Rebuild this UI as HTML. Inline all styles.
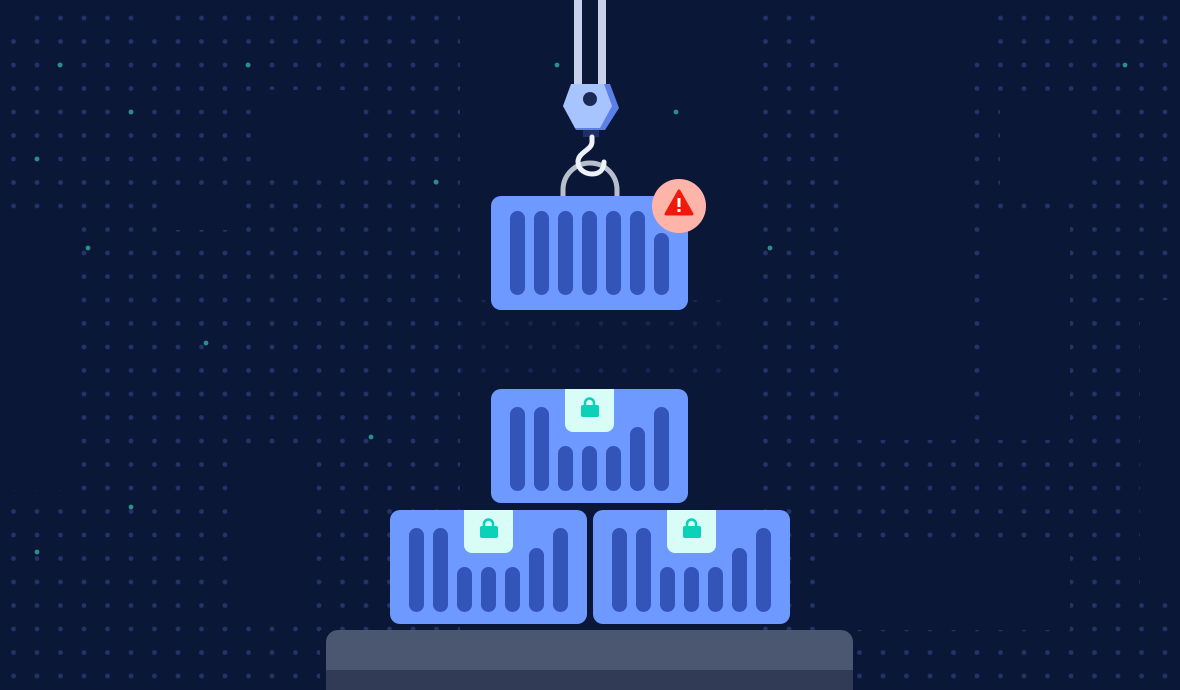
<!DOCTYPE html>
<html><head><meta charset="utf-8"><style>
html,body{margin:0;padding:0;background:#0b1736;width:1180px;height:690px;overflow:hidden}
</style></head><body>
<svg width="1180" height="690" viewBox="0 0 1180 690" xmlns="http://www.w3.org/2000/svg">
<defs>
<pattern id="dots" x="1.75" y="6.25" width="23.5" height="23.5" patternUnits="userSpaceOnUse">
<circle cx="11.75" cy="11.75" r="2.4" fill="#34488f"/>
</pattern>
</defs>
<rect width="1180" height="690" fill="#0b1736"/>
<g opacity="0.6">
<rect x="0" y="0" width="460" height="630" fill="url(#dots)"/>
<rect x="0" y="630" width="320" height="60" fill="url(#dots)"/>
<rect x="755" y="0" width="425" height="690" fill="url(#dots)"/>
<rect x="460" y="300" width="280" height="90" fill="url(#dots)" opacity="0.5"/>
</g>
<g fill="#0b1736">
<rect x="0" y="220" width="75" height="270"/>
<rect x="0" y="0" width="25" height="30"/>
<rect x="240" y="460" width="70" height="150"/>
<rect x="165" y="190" width="80" height="40"/>
<rect x="260" y="90" width="100" height="90"/>
<rect x="840" y="60" width="130" height="380"/>
<rect x="980" y="220" width="90" height="220"/>
<rect x="1140" y="300" width="40" height="300"/>
<rect x="830" y="550" width="240" height="80"/>
<rect x="1000" y="100" width="90" height="90"/>
<rect x="150" y="0" width="20" height="30"/>
<rect x="830" y="0" width="150" height="55"/>
</g>
<g fill="#2a8f8a">
<circle cx="60" cy="65" r="2.4"/><circle cx="248" cy="65" r="2.4"/><circle cx="131" cy="112" r="2.4"/><circle cx="37" cy="159" r="2.4"/>
<circle cx="436" cy="182" r="2.4"/><circle cx="88" cy="248" r="2.4"/><circle cx="206" cy="343" r="2.4"/><circle cx="371" cy="437" r="2.4"/>
<circle cx="131" cy="507" r="2.4"/><circle cx="37" cy="552" r="2.4"/><circle cx="770" cy="248" r="2.4"/><circle cx="1125" cy="65" r="2.4"/>
<circle cx="676" cy="112" r="2.4"/><circle cx="557" cy="65" r="2.4"/>
</g>
<path d="M326 642 a12 12 0 0 1 12 -12 h503 a12 12 0 0 1 12 12 v48 h-527z" fill="#4b5670"/>
<rect x="326" y="670" width="527" height="20" fill="#323b55"/>
<rect x="574" y="0" width="8" height="88" fill="#c8d2ea"/>
<rect x="598" y="0" width="8" height="88" fill="#c8d2ea"/>
<path d="M563 198 V190 a27 27 0 0 1 54 0 V198" fill="none" stroke="#b8bfcc" stroke-width="5"/>
<rect x="583" y="128" width="16" height="9" fill="#1f3060"/>
<path d="M592 137 v5 c0 8 -14 10 -14 20 c0 8 8 12 14 12 c8 0 12 -5 12 -12" fill="none" stroke="#eef1f8" stroke-width="5" stroke-linecap="round"/>
<polygon points="573,84 610,84 619,108 605,130 576,130 563,106" fill="#5b80e8"/>
<polygon points="571,84 604,84 612,106 600,128 575,128 563,106" fill="#a8c4ff"/>
<circle cx="590" cy="99" r="7" fill="#1a2a55"/>
<rect x="491" y="196" width="197" height="114" rx="10" fill="#6e99ff"/>
<g fill="#3354b8">
<rect x="510" y="211" width="15" height="84" rx="7.5"/><rect x="534" y="211" width="15" height="84" rx="7.5"/>
<rect x="558" y="211" width="15" height="84" rx="7.5"/><rect x="582" y="211" width="15" height="84" rx="7.5"/>
<rect x="606" y="211" width="15" height="84" rx="7.5"/><rect x="630" y="211" width="15" height="84" rx="7.5"/>
<rect x="654" y="233" width="15" height="62" rx="7.5"/>
</g>
<circle cx="679" cy="206" r="27" fill="#ffb4aa"/>
<path d="M679 191 L692 214 H666 Z" fill="#f01a0a" stroke="#f01a0a" stroke-width="3" stroke-linejoin="round"/>
<rect x="677.5" y="198" width="3" height="9" fill="#fff"/><rect x="677.5" y="209" width="3" height="3" fill="#fff"/>
<g id="c1">
<rect x="491" y="389" width="197" height="114" rx="10" fill="#6e99ff"/>
<path d="M565 389 h49 v35 a8 8 0 0 1 -8 8 h-33 a8 8 0 0 1 -8 -8z" fill="#d8fdf7"/>
<path d="M585 406 v-3 a4.5 4.5 0 0 1 9 0 v3" fill="none" stroke="#0ad1b8" stroke-width="2.5"/>
<rect x="581" y="405" width="18" height="12" rx="2" fill="#0ad1b8"/>
<g fill="#3354b8">
<rect x="510" y="407" width="15" height="84" rx="7.5"/><rect x="534" y="407" width="15" height="84" rx="7.5"/>
<rect x="558" y="446" width="15" height="45" rx="7.5"/><rect x="582" y="446" width="15" height="45" rx="7.5"/>
<rect x="606" y="446" width="15" height="45" rx="7.5"/><rect x="630" y="427" width="15" height="64" rx="7.5"/>
<rect x="654" y="407" width="15" height="84" rx="7.5"/>
</g>
</g>
<use href="#c1" x="-101" y="121"/>
<use href="#c1" x="102" y="121"/>
</svg>
</body></html>
